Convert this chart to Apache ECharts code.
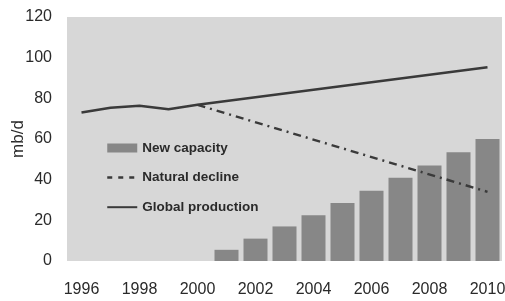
<!DOCTYPE html>
<html>
<head>
<meta charset="utf-8">
<script src="https://cdn.jsdelivr.net/npm/echarts@6/dist/echarts.min.js"></script>
<style>
  html, body { margin: 0; padding: 0; background: #fff; }
  #chart { width: 505px; height: 301px; }
</style>
</head>
<body>
<div id="chart"></div>
<script>
// data
var years = ['1996', '1997', '1998', '1999', '2000', '2001', '2002', '2003',
             '2004', '2005', '2006', '2007', '2008', '2009', '2010'];
var newCapacity = [null, null, null, null, null, 5.5, 11, 17, 22.5, 28.5, 34.5, 41, 47, 53.5, 60];
// straight segments: only the end points are read, the rest is joined
var naturalDecline = [null, null, null, null, 76.8, null, null, null, null, null, null, null, null, null, 34];
var globalProduction = [73, 75.4, 76.4, 74.6, 76.8, null, null, null, null, null, null, null, null, null, 95.3];
var yTicks = [0, 20, 40, 60, 80, 100, 120];

var font = '"Liberation Sans", Arial, sans-serif';
var myChart = echarts.init(document.getElementById('chart'));
var option = {
  animation: false,
  grid: {
    left: 67, right: 3, top: 17, bottom: 40,
    outerBoundsMode: 'none',   // v6: keep the grid where it is set
    show: true,
    backgroundColor: '#d7d7d7',
    borderWidth: 0
  },
  legend: {
    orient: 'vertical',
    left: 101,
    top: 136,
    itemWidth: 30,
    itemHeight: 9,
    itemGap: 15.6,
    textStyle: { fontFamily: font, fontSize: 13.5, fontWeight: 'bold', color: '#2a2a2a' },
    data: [
      { name: 'New capacity', icon: 'rect' },
      { name: 'Natural decline', itemStyle: { opacity: 0 }, lineStyle: { type: [5, 6], width: 2.5 } },
      { name: 'Global production', itemStyle: { opacity: 0 } }
    ]
  },
  xAxis: {
    type: 'category',
    data: years,
    axisLine: { show: false },
    axisTick: { show: false },
    axisLabel: {
      interval: 1, margin: 21,
      fontFamily: font, fontSize: 16, color: '#2a2a2a'
    }
  },
  yAxis: {
    type: 'value',
    min: yTicks[0],
    max: yTicks[yTicks.length - 1],
    interval: 20,
    name: 'mb/d',
    nameLocation: 'middle',
    nameGap: 40,
    nameRotate: 90,
    nameMoveOverlap: false,
    nameTextStyle: { fontFamily: font, fontSize: 17, color: '#2a2a2a' },
    axisLine: { show: false },
    axisTick: { show: false },
    splitLine: { show: false },
    axisLabel: { margin: 15, fontFamily: font, fontSize: 16, color: '#2a2a2a' }
  },
  series: [
    {
      name: 'New capacity',
      type: 'bar',
      data: newCapacity,
      barWidth: 24,
      itemStyle: { color: '#878787' }
    },
    {
      name: 'Natural decline',
      type: 'line',
      data: naturalDecline,
      connectNulls: true,
      symbol: 'none',
      z: 3,
      itemStyle: { color: '#3a3a3a' },
      lineStyle: { color: '#3a3a3a', width: 2.5, type: [8, 5, 2, 5] }
    },
    {
      name: 'Global production',
      type: 'line',
      data: globalProduction,
      connectNulls: true,
      symbol: 'none',
      z: 4,
      itemStyle: { color: '#3a3a3a' },
      lineStyle: { color: '#3a3a3a', width: 2.5 }
    }
  ]
};
myChart.setOption(option);
</script>
</body>
</html>
